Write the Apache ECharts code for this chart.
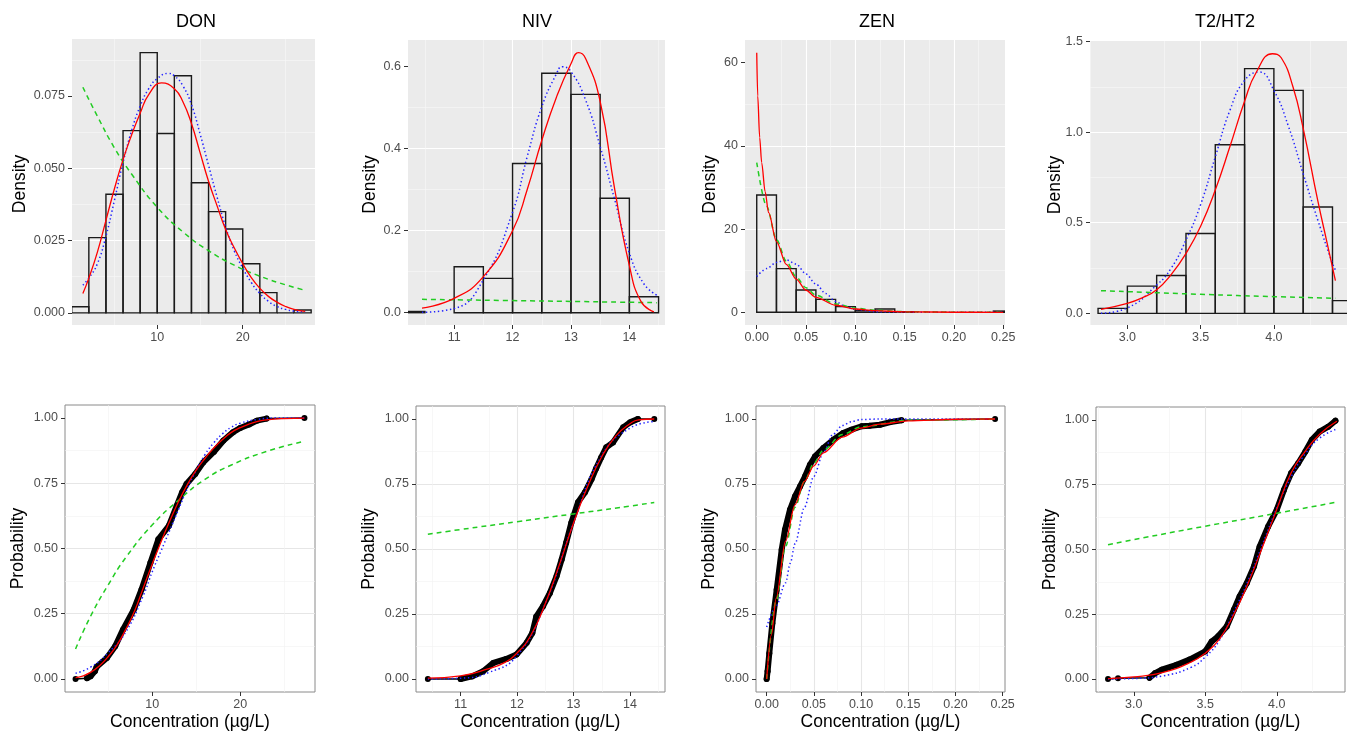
<!DOCTYPE html>
<html><head><meta charset="utf-8">
<script src="https://cdn.jsdelivr.net/npm/echarts@6/dist/echarts.min.js"></script>
<style>html,body{margin:0;padding:0;background:#fff}#c{width:1347px;height:733px}</style>
</head><body><div id="c"></div>
<script>
// ---------------- DATA ----------------
const panelTitles = ['DON', 'NIV', 'ZEN', 'T2/HT2'];
const densityName = 'Density';
const probName = 'Probability';
const concName = 'Concentration (µg/L)';

// tick labels
const donDensTicks = [0, 0.025, 0.05, 0.075];
const nivDensTicks = [0, 0.2, 0.4, 0.6];
const zenDensTicks = [0, 20, 40, 60];
const t2DensTicks = [0, 0.5, 1.0, 1.5];
const probTicks = [0, 0.25, 0.5, 0.75, 1.0];
const donXTicks = [10, 20];
const nivXTicks = [11, 12, 13, 14];
const zenXTicks = [0, 0.05, 0.10, 0.15, 0.20, 0.25];
const t2XTicks = [3.0, 3.5, 4.0];

// ---- DON histogram + densities
const donBinLo = [0, 2, 4, 6, 8, 10, 12, 14, 16, 18, 20, 22, 24, 26];
const donBinHi = [2, 4, 6, 8, 10, 12, 14, 16, 18, 20, 22, 24, 26, 28];
const donHist = [0.0021, 0.026, 0.041, 0.063, 0.090, 0.062, 0.082, 0.045, 0.035, 0.029, 0.017, 0.007, 0, 0.001];
const donRedX = [1.3, 2, 3, 4, 5, 6, 7, 8, 9, 10.5, 12, 13, 14, 15, 16, 17, 18, 19, 20, 21, 22, 23, 24, 25, 26, 27.3];
const donRedY = [0.0067, 0.012, 0.021, 0.032, 0.043, 0.053, 0.0615, 0.069, 0.0755, 0.0795, 0.0775, 0.073, 0.0655, 0.0555, 0.0455, 0.037, 0.0288, 0.0225, 0.017, 0.0122, 0.0085, 0.0057, 0.0037, 0.0022, 0.0012, 0.0005];
const donBlueX = [1.3, 2, 3, 4, 5, 6, 7, 8, 9, 10, 11.3, 12, 13, 14, 15, 16, 17, 18, 19, 20, 21, 22, 23, 24, 25, 26, 27.3];
const donBlueY = [0.0096, 0.012, 0.017, 0.0265, 0.039, 0.052, 0.063, 0.0715, 0.0775, 0.081, 0.0828, 0.082, 0.0785, 0.072, 0.062, 0.051, 0.040, 0.0297, 0.0215, 0.0155, 0.0105, 0.0067, 0.004, 0.0022, 0.0012, 0.0006, 0.0003];
const donGreenX = [1.3, 3, 5, 7, 10, 13, 16, 19, 22, 25, 27.3];
const donGreenY = [0.078, 0.068, 0.057, 0.048, 0.0365, 0.028, 0.0215, 0.0165, 0.0127, 0.0097, 0.0078];

// ---- NIV
const nivBinLo = [10.0, 11.0, 11.5, 12.0, 12.5, 13.0, 13.5, 14.0];
const nivBinHi = [10.5, 11.5, 12.0, 12.5, 13.0, 13.5, 14.0, 14.5];
const nivHist = [0.003, 0.112, 0.0837, 0.364, 0.584, 0.5325, 0.279, 0.039];
const nivRedX = [10.45, 11, 11.5, 12, 12.25, 12.5, 12.75, 13, 13.13, 13.25, 13.5, 13.75, 14, 14.2, 14.42];
const nivRedY = [0.011, 0.035, 0.088, 0.2, 0.3, 0.42, 0.525, 0.607, 0.634, 0.62, 0.515, 0.30, 0.115, 0.027, 0.002];
const nivBlueX = [10.45, 11, 11.5, 12, 12.25, 12.5, 12.75, 12.85, 13, 13.25, 13.5, 13.75, 14, 14.25, 14.47];
const nivBlueY = [0.001, 0.01, 0.08, 0.245, 0.38, 0.502, 0.582, 0.6, 0.588, 0.519, 0.405, 0.275, 0.145, 0.07, 0.043];
const nivGreenX = [10.45, 12, 13, 14.47];
const nivGreenY = [0.0325, 0.0295, 0.0275, 0.0244];

// ---- ZEN
const zenBinLo = [0, 0.02, 0.04, 0.06, 0.08, 0.10, 0.12, 0.14, 0.24];
const zenBinHi = [0.02, 0.04, 0.06, 0.08, 0.10, 0.12, 0.14, 0.16, 0.26];
const zenHist = [28.2, 10.5, 5.37, 3.12, 1.36, 0.4, 0.8, 0.15, 0.3];
const zenRedX = [0, 0.001, 0.003, 0.005, 0.0085, 0.012, 0.02, 0.03, 0.04, 0.05, 0.06, 0.08, 0.1, 0.12, 0.15, 0.2, 0.25];
const zenRedY = [62.4, 52, 42, 36, 29, 24, 17, 11.5, 8, 5.3, 3.6, 1.7, 0.8, 0.4, 0.12, 0.02, 0];
const zenBlueX = [0, 0.01, 0.02, 0.03, 0.04, 0.05, 0.06, 0.07, 0.08, 0.09, 0.1, 0.12, 0.15, 0.25];
const zenBlueY = [8.6, 10.5, 12, 12.6, 11.6, 9.2, 6.8, 4.5, 2.6, 1.4, 0.7, 0.15, 0.01, 0];
const zenGreenX = [0, 0.01, 0.02, 0.03, 0.04, 0.05, 0.06, 0.08, 0.1, 0.12, 0.15, 0.2, 0.25];
const zenGreenY = [36, 25.5, 17.5, 12.3, 8.5, 5.9, 4.1, 2.0, 1.0, 0.5, 0.16, 0.03, 0];

// ---- T2/HT2
const t2BinLo = [2.8, 3.0, 3.2, 3.4, 3.6, 3.8, 4.0, 4.2, 4.4];
const t2BinHi = [3.0, 3.2, 3.4, 3.6, 3.8, 4.0, 4.2, 4.4, 4.6];
const t2Hist = [0.0275, 0.15, 0.209, 0.44, 0.93, 1.35, 1.23, 0.587, 0.07];
const t2RedX = [2.82, 3.0, 3.1, 3.2, 3.3, 3.4, 3.5, 3.6, 3.7, 3.8, 3.88, 3.99, 4.05, 4.13, 4.2, 4.3, 4.36, 4.42];
const t2RedY = [0.022, 0.055, 0.085, 0.13, 0.215, 0.33, 0.48, 0.68, 0.92, 1.17, 1.33, 1.432, 1.41, 1.25, 1.02, 0.62, 0.4, 0.18];
const t2BlueX = [2.82, 3.0, 3.2, 3.3, 3.4, 3.5, 3.6, 3.7, 3.8, 3.9, 4.0, 4.1, 4.2, 4.3, 4.4, 4.42];
const t2BlueY = [0.0, 0.03, 0.156, 0.25, 0.404, 0.6, 0.863, 1.12, 1.285, 1.331, 1.23, 1.03, 0.77, 0.514, 0.275, 0.24];
const t2GreenX = [2.82, 3.5, 4.0, 4.42];
const t2GreenY = [0.125, 0.105, 0.092, 0.083];

// ---- ECDFs (observed points)
const donEcdfX = [1.3, 2.6, 3.0, 3.5, 3.7, 4.85, 5.8, 6.7, 7.9, 8.8, 9.8, 10.7, 11.9, 12.8, 13.4, 13.9, 14.9, 15.8, 17.0, 18.1, 19.2, 20.0, 21.0, 21.9, 23.0, 27.3];
const donEcdfP = [0, 0.003, 0.01, 0.03, 0.047, 0.08, 0.125, 0.19, 0.265, 0.343, 0.445, 0.535, 0.587, 0.664, 0.715, 0.747, 0.786, 0.83, 0.87, 0.914, 0.946, 0.962, 0.975, 0.99, 0.998, 1.0];
const nivEcdfX = [10.42, 11.0, 11.2, 11.4, 11.58, 11.81, 11.99, 12.17, 12.27, 12.34, 12.46, 12.58, 12.7, 12.79, 12.87, 12.96, 13.08, 13.2, 13.32, 13.4, 13.49, 13.58, 13.7, 13.88, 14.0, 14.14, 14.43];
const nivEcdfP = [0, 0, 0.01, 0.03, 0.062, 0.077, 0.094, 0.139, 0.177, 0.24, 0.28, 0.33, 0.396, 0.46, 0.524, 0.6, 0.68, 0.717, 0.769, 0.81, 0.852, 0.891, 0.91, 0.968, 0.987, 1.0, 1.0];
const zenEcdfX = [0, 0.001, 0.0028, 0.006, 0.0106, 0.0159, 0.0194, 0.0247, 0.03, 0.0353, 0.0406, 0.0459, 0.0512, 0.06, 0.0706, 0.081, 0.09, 0.1006, 0.109, 0.12, 0.131, 0.143, 0.242];
const zenEcdfP = [0, 0.03, 0.099, 0.214, 0.343, 0.497, 0.574, 0.651, 0.702, 0.74, 0.779, 0.824, 0.856, 0.888, 0.92, 0.946, 0.959, 0.972, 0.974, 0.978, 0.988, 0.995, 1.0];
const t2EcdfX = [2.82, 2.89, 3.11, 3.15, 3.196, 3.3, 3.39, 3.5, 3.545, 3.59, 3.65, 3.7, 3.74, 3.79, 3.84, 3.88, 3.94, 4.0, 4.05, 4.1, 4.15, 4.2, 4.245, 4.3, 4.36, 4.41];
const t2EcdfP = [0, 0.003, 0.005, 0.023, 0.036, 0.055, 0.075, 0.107, 0.145, 0.165, 0.203, 0.267, 0.319, 0.37, 0.434, 0.511, 0.589, 0.653, 0.73, 0.794, 0.833, 0.878, 0.923, 0.955, 0.974, 0.997];

// ---- fitted CDFs
const donCdfRedX = [1.3, 2, 3, 4, 5, 6, 7, 8, 9, 10, 11, 12, 13, 14, 15, 16, 17, 18, 19, 20, 21, 22, 23, 25, 27.3];
const donCdfRedP = [0.005, 0.01, 0.025, 0.05, 0.085, 0.13, 0.19, 0.26, 0.35, 0.44, 0.525, 0.605, 0.68, 0.745, 0.80, 0.845, 0.885, 0.918, 0.945, 0.963, 0.977, 0.987, 0.993, 0.998, 1.0];
const donCdfBlueX = [1.3, 3, 5, 7, 9, 10, 11, 12, 13, 14, 15, 16, 17, 18, 19, 20, 22, 24, 27.3];
const donCdfBlueP = [0.022, 0.045, 0.1, 0.18, 0.32, 0.41, 0.49, 0.57, 0.65, 0.73, 0.8, 0.86, 0.905, 0.94, 0.965, 0.98, 0.995, 1, 1];
const donCdfGreenX = [1.3, 3, 5, 7, 10, 13, 16, 19, 23, 27.3];
const donCdfGreenP = [0.115, 0.24, 0.36, 0.465, 0.59, 0.685, 0.765, 0.82, 0.872, 0.911];
const nivCdfRedX = [10.42, 11, 11.5, 11.75, 12, 12.25, 12.5, 12.75, 13, 13.25, 13.5, 13.75, 14, 14.15, 14.43];
const nivCdfRedP = [0.003, 0.012, 0.04, 0.06, 0.1, 0.17, 0.29, 0.44, 0.6, 0.74, 0.855, 0.935, 0.982, 0.997, 1.0];
const nivCdfBlueX = [10.42, 11, 11.5, 12, 12.5, 13, 13.5, 14, 14.43];
const nivCdfBlueP = [0, 0.003, 0.025, 0.09, 0.29, 0.6, 0.86, 0.965, 0.99];
const nivCdfGreenX = [10.42, 11, 12, 13, 14, 14.43];
const nivCdfGreenP = [0.557, 0.575, 0.605, 0.635, 0.665, 0.679];
const zenCdfRedX = [0, 0.005, 0.01, 0.02, 0.03, 0.04, 0.05, 0.06, 0.08, 0.1, 0.12, 0.15, 0.2, 0.242];
const zenCdfRedP = [0, 0.17, 0.31, 0.53, 0.67, 0.76, 0.82, 0.87, 0.93, 0.965, 0.98, 0.993, 0.999, 1];
const zenCdfBlueX = [0, 0.01, 0.02, 0.025, 0.03, 0.04, 0.05, 0.06, 0.07, 0.08, 0.09, 0.1, 0.12, 0.242];
const zenCdfBlueP = [0.2, 0.28, 0.37, 0.445, 0.52, 0.66, 0.78, 0.87, 0.94, 0.975, 0.99, 0.998, 1, 1];
const zenCdfGreenX = [0, 0.01, 0.02, 0.03, 0.04, 0.05, 0.06, 0.08, 0.1, 0.15, 0.242];
const zenCdfGreenP = [0, 0.3, 0.51, 0.66, 0.76, 0.83, 0.88, 0.94, 0.97, 0.995, 1];
const t2CdfRedX = [2.82, 3.0, 3.2, 3.4, 3.5, 3.6, 3.7, 3.8, 3.9, 4.0, 4.1, 4.2, 4.3, 4.42];
const t2CdfRedP = [0.002, 0.008, 0.025, 0.065, 0.1, 0.155, 0.25, 0.37, 0.51, 0.655, 0.795, 0.88, 0.945, 0.995];
const t2CdfBlueX = [2.82, 3.0, 3.2, 3.4, 3.5, 3.6, 3.7, 3.8, 3.9, 4.0, 4.1, 4.2, 4.3, 4.42];
const t2CdfBlueP = [0, 0.002, 0.012, 0.045, 0.085, 0.15, 0.26, 0.38, 0.52, 0.66, 0.78, 0.87, 0.93, 0.965];
const t2CdfGreenX = [2.82, 3.0, 3.5, 4.0, 4.42];
const t2CdfGreenP = [0.518, 0.538, 0.59, 0.64, 0.683];

// ---------------- LAYOUT / STYLE ----------------
const FONT = '"Liberation Sans", Arial, Helvetica, sans-serif';
const RED = '#FF0000', BLUE = '#2020FF', GREEN = '#22CC22';

const topPanels = [
  {g:{left:72, top:39, width:243, height:286}, x:[0.03, 28.45], xs:10, xt:donXTicks, xd:0, y:[-0.0042, 0.0947], ys:0.025, yt:donDensTicks, yd:3,
   bins:[donBinLo, donBinHi, donHist], red:[donRedX, donRedY], blue:[donBlueX, donBlueY], green:[donGreenX, donGreenY], tx:196, nx:20, mono:false},
  {g:{left:408, top:40, width:257, height:285}, x:[10.21, 14.61], xs:1, xt:nivXTicks, xd:0, y:[-0.030, 0.665], ys:0.2, yt:nivDensTicks, yd:1,
   bins:[nivBinLo, nivBinHi, nivHist], red:[nivRedX, nivRedY], blue:[nivBlueX, nivBlueY], green:[nivGreenX, nivGreenY], tx:537, nx:370, mono:false},
  {g:{left:745, top:40, width:260, height:285}, x:[-0.0119, 0.2518], xs:0.05, xt:zenXTicks, xd:2, y:[-3.05, 65.45], ys:20, yt:zenDensTicks, yd:0,
   bins:[zenBinLo, zenBinHi, zenHist], red:[zenRedX, zenRedY], blue:[zenBlueX, zenBlueY], green:[zenGreenX, zenGreenY], tx:877, nx:710, mono:true},
  {g:{left:1090, top:41, width:257, height:284}, x:[2.745, 4.499], xs:0.5, xt:t2XTicks, xd:1, y:[-0.0644, 1.5024], ys:0.5, yt:t2DensTicks, yd:1,
   bins:[t2BinLo, t2BinHi, t2Hist], red:[t2RedX, t2RedY], blue:[t2BlueX, t2BlueY], green:[t2GreenX, t2GreenY], tx:1225, nx:1055, mono:false}
];
const bottomPanels = [
  {g:{left:65, top:405, width:250, height:287}, x:[0.1, 28.5], xs:10, xt:donXTicks, xd:0,
   ecdf:[donEcdfX, donEcdfP], dense:[1, 25], red:[donCdfRedX, donCdfRedP], blue:[donCdfBlueX, donCdfBlueP], green:[donCdfGreenX, donCdfGreenP], nx:18, mono:false},
  {g:{left:416, top:406, width:249, height:286}, x:[10.21, 14.62], xs:1, xt:nivXTicks, xd:0,
   ecdf:[nivEcdfX, nivEcdfP], dense:[1, 26], red:[nivCdfRedX, nivCdfRedP], blue:[nivCdfBlueX, nivCdfBlueP], green:[nivCdfGreenX, nivCdfGreenP], nx:369, mono:false},
  {g:{left:756, top:406, width:249, height:286}, x:[-0.0113, 0.2525], xs:0.05, xt:zenXTicks, xd:2,
   ecdf:[zenEcdfX, zenEcdfP], dense:[0, 22], red:[zenCdfRedX, zenCdfRedP], blue:[zenCdfBlueX, zenCdfBlueP], green:[zenCdfGreenX, zenCdfGreenP], nx:709, mono:true},
  {g:{left:1096, top:407, width:249, height:285}, x:[2.736, 4.477], xs:0.5, xt:t2XTicks, xd:1,
   ecdf:[t2EcdfX, t2EcdfP], dense:[2, 26], red:[t2CdfRedX, t2CdfRedP], blue:[t2CdfBlueX, t2CdfBlueP], green:[t2CdfGreenX, t2CdfGreenP], nx:1050, mono:false}
];

const grids = [], xAxes = [], yAxes = [], series = [], graphics = [];

function isTick(v, ticks) { return ticks.some(t => Math.abs(t - v) < 1e-7 * Math.max(1, Math.abs(t))); }
function mkAxis(kind, gi, range, step, ticks, dec, bw) {
  return {
    type: 'value', gridIndex: gi, min: range[0], max: range[1], minInterval: step, maxInterval: step,
    axisLine: { show: false, onZero: false },
    axisTick: { show: true, length: 4, lineStyle: { color: '#333333', width: 1 }, customValues: ticks },
    axisLabel: { show: true, margin: kind === 'x' ? 6 : 7, color: '#4D4D4D', fontSize: 12.5, fontFamily: FONT, customValues: ticks,
      formatter: v => isTick(v, ticks) ? Number(v).toFixed(dec) : '' },
    splitLine: { show: true, showMinLine: false, showMaxLine: false, lineStyle: { color: bw ? '#E6E6E6' : '#FFFFFF', width: 1.1 } },
    minorTick: { show: false, splitNumber: 2 },
    minorSplitLine: { show: true, lineStyle: { color: bw ? '#F2F2F2' : '#F8F8F8', width: 0.6 } },
    splitArea: { show: false }
  };
}
const lineStyles = {
  red: { color: RED, width: 1.3, type: 'solid' },
  blue: { color: BLUE, width: 1.5, type: [1.4, 2.6] },
  green: { color: GREEN, width: 1.5, type: [5, 4] }
};
function pts(X, Y) { return X.map((x, i) => [x, Y[i]]); }
function curve(gi, arr, kind, mono) {
  return { type: 'line', xAxisIndex: gi, yAxisIndex: gi, data: pts(arr[0], arr[1]), symbol: 'none',
    smooth: mono ? 0.3 : 0.5, smoothMonotone: mono ? 'x' : null,
    clip: true, silent: true, z: kind === 'red' ? 6 : 5, lineStyle: Object.assign({}, lineStyles[kind]), animation: false };
}
function text(x, y, s, size, rot, color) {
  graphics.push({ type: 'text', x, y, rotation: rot || 0, silent: true,
    style: { text: s, fill: color || '#000', font: size + 'px ' + FONT, align: 'center', verticalAlign: 'middle', textAlign: 'center', textVerticalAlign: 'middle' } });
}

topPanels.forEach((p, i) => {
  const gi = i;
  grids.push(Object.assign({ show: true, backgroundColor: '#EBEBEB', borderWidth: 0, containLabel: false }, p.g));
  xAxes.push(mkAxis('x', gi, p.x, p.xs, p.xt, p.xd, false));
  yAxes.push(mkAxis('y', gi, p.y, p.ys, p.yt, p.yd, false));
  series.push({
    type: 'custom', xAxisIndex: gi, yAxisIndex: gi, clip: true, silent: true, z: 3,
    data: p.bins[0].map((lo, k) => [lo, p.bins[1][k], p.bins[2][k]]),
    encode: { x: [0, 1], y: 2 },
    renderItem: (params, api) => {
      const a = api.coord([api.value(0), 0]);
      const b = api.coord([api.value(1), api.value(2)]);
      return { type: 'rect', shape: { x: a[0], y: b[1], width: b[0] - a[0], height: a[1] - b[1] },
        style: { fill: null, stroke: '#1A1A1A', lineWidth: 1.4 } };
    }
  });
  series.push(curve(gi, p.blue, 'blue', p.mono));
  series.push(curve(gi, p.green, 'green', p.mono));
  series.push(curve(gi, p.red, 'red', p.mono));
  text(p.tx, 22, panelTitles[i], 18);
  text(p.nx, p.g.top + p.g.height / 2 + 2, densityName, 17.5, Math.PI / 2);
});

bottomPanels.forEach((p, i) => {
  const gi = i + 4;
  grids.push(Object.assign({ show: true, backgroundColor: '#FFFFFF', borderWidth: 1, borderColor: '#8A8A8A', containLabel: false }, p.g));
  xAxes.push(mkAxis('x', gi, p.x, p.xs, p.xt, p.xd, true));
  yAxes.push(mkAxis('y', gi, [-0.05, 1.05], 0.25, probTicks, 2, true));
  const all = pts(p.ecdf[0], p.ecdf[1]);
  series.push({ type: 'line', xAxisIndex: gi, yAxisIndex: gi, data: all, symbol: 'circle', symbolSize: 6, showSymbol: true, showAllSymbol: true,
    clip: true, silent: true, z: 3, itemStyle: { color: '#000' }, lineStyle: { color: '#000', width: 1.5 }, animation: false });
  series.push({ type: 'line', xAxisIndex: gi, yAxisIndex: gi, data: all.slice(p.dense[0], p.dense[1]), symbol: 'none',
    clip: true, silent: true, z: 3, lineStyle: { color: '#000', width: 6, cap: 'round', join: 'round' }, animation: false });
  series.push(curve(gi, p.blue, 'blue', p.mono));
  series.push(curve(gi, p.green, 'green', p.mono));
  series.push(curve(gi, p.red, 'red', p.mono));
  const cx = p.g.left + p.g.width / 2;
  text(p.nx, p.g.top + p.g.height / 2, probName, 17.5, Math.PI / 2);
  text(cx, 722, concName, 17.5);
});

const chart = echarts.init(document.getElementById('c'), null, { renderer: 'canvas' });
chart.setOption({
  animation: false,
  backgroundColor: '#FFFFFF',
  grid: grids, xAxis: xAxes, yAxis: yAxes, series: series,
  graphic: { elements: graphics }
});
</script>
</body></html>
